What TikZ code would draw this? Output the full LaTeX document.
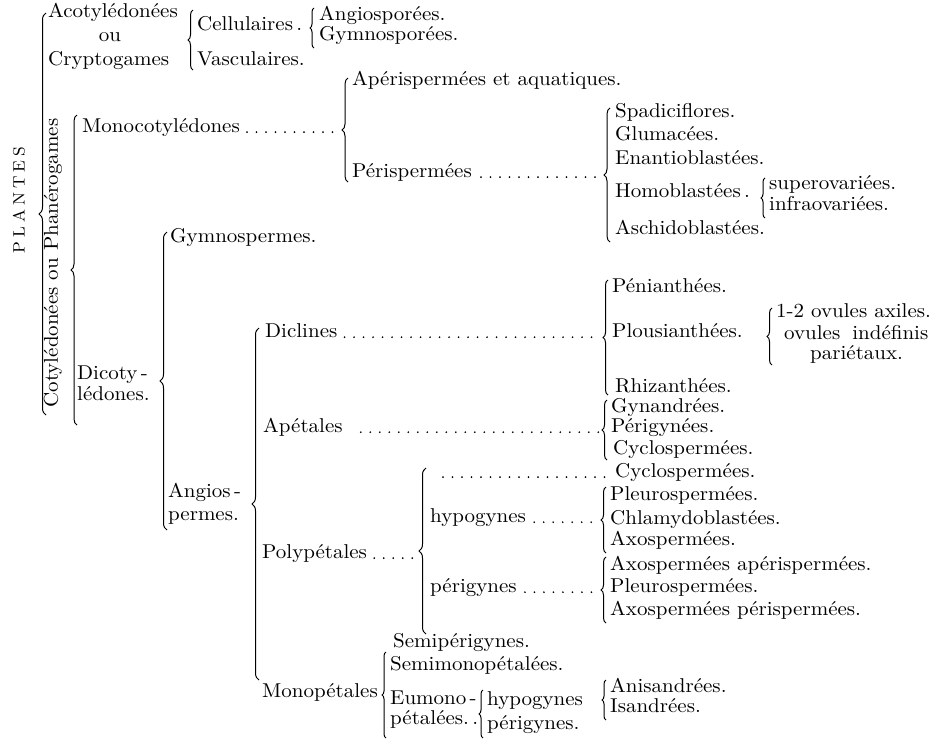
\documentclass[tikz,border=0pt]{standalone}
\usepackage{fontspec}
\setmainfont{lmroman10-regular}[Extension=.otf, FakeStretch=1.05]
\usetikzlibrary{decorations.pathreplacing}
\tikzset{
  lbl/.style={anchor=mid west, inner sep=0pt, font=\fontsize{20}{22}\selectfont},
  brc/.style={decorate, decoration={brace, amplitude=#1}, line width=1pt},
  brc/.default=5pt,
  lead/.style={line width=1.9pt, line cap=round, dash pattern=on 0pt off 9.5pt},
}
\begin{document}
\begin{tikzpicture}[x=1pt,y=-1pt]
\useasboundingbox (0,0) rectangle (944,745);
% tronc
\node[rotate=90, font=\fontsize{16.5}{17}\selectfont] (plantes) at (19,200) {P\kern4pt L\kern4pt A\kern4pt N\kern4pt T\kern4pt E\kern4pt S};
\draw[brc=7pt] (46,415) -- (46,13);
\node[lbl] (acot) at (48,15) {Acotylédonées};
\node[lbl, anchor=mid] (ou) at (110,39) {ou};
\node[lbl] (crypt) at (48,63) {Cryptogames};
\draw[brc] (193,70) -- (193,10);
\node[lbl] (cell) at (197,28) {Cellulaires\,.};
\node[lbl] (vasc) at (197,63) {Vasculaires.};
\draw[brc=4pt] (314,48) -- (314,8);
\node[lbl] (angsp) at (319,18) {Angiosporées.};
\node[lbl] (gymsp) at (319,38) {Gymnosporées.};
\node[rotate=90, font=\fontsize{20}{22}\selectfont] (cotyl) at (53,263) {Cotylédonées ou Phanérogames};
\draw[brc=6pt] (77,425) -- (77,115);
% monocotyledones
\node[lbl] (mono) at (82,130) {Monocotylédones};
\draw[brc=6pt] (348,182) -- (348,78);
\coordinate (tmono) at (340,130);
\node[lbl] (aper) at (352,83) {Apérispermées et aquatiques.};
\node[lbl] (peri) at (352,175) {Périspermées};
\draw[brc=6pt] (610,242) -- (610,108);
\coordinate (tperi) at (602,175);
\node[lbl] (spad) at (615,115) {Spadiciflores.};
\node[lbl] (glum) at (615,138) {Glumacées.};
\node[lbl] (enan) at (615,162) {Enantioblastées.};
\node[lbl] (homo) at (615,195) {Homoblastées\,.};
\draw[brc=4pt] (765,218) -- (765,178);
\node[lbl] (super) at (769,187) {superovariées.};
\node[lbl] (infra) at (769,208) {infraovariées.};
\node[lbl] (aschi) at (615,232) {Aschidoblastées.};
\draw[lead] ([xshift=7pt]mono.base east) -- (tmono |- mono.base east);
\draw[lead] ([xshift=9pt]peri.base east) -- (tperi |- peri.base east);
% dicotyledones
\node[lbl] (dicot) at (77,377) {Dicoty\,-};
\node[lbl] (dicot2) at (77,398) {lédones.};
\draw[brc=7pt] (167,530) -- (167,232);
\node[lbl] (gymno) at (170,240) {Gymnospermes.};
\node[lbl] (angio) at (168,495) {Angios\,-};
\node[lbl] (angio2) at (168,518) {permes.};
\draw[brc=7pt] (259,680) -- (259,328);
% diclines
\node[lbl] (dicl) at (265,335) {Diclines};
\draw[brc] (608,395) -- (608,280);
\coordinate (tdicl) at (601,337);
\node[lbl] (peni) at (612,290) {Pénianthées.};
\node[lbl] (plou) at (612,335) {Plousianthées.};
\draw[brc] (772,365) -- (772,308);
\node[lbl] (ov1) at (776,315) {1-2 ovules axiles.};
\node[lbl] (ov2) at (784,337) {ovules\hspace{12pt}indéfinis};
\node[lbl] (ov3) at (810,357) {pariétaux.};
\node[lbl] (rhiz) at (615,390) {Rhizanthées.};
\draw[lead] ([xshift=7pt]dicl.base east) -- (tdicl |- dicl.base east);
% apetales
\node[lbl] (apet) at (263,430) {Apétales};
\draw[brc] (607,460) -- (607,400);
\coordinate (tapet) at (600,430);
\node[lbl] (gyna) at (611,410) {Gynandrées.};
\node[lbl] (perig) at (611,430) {Périgynées.};
\node[lbl] (cycl) at (613,452) {Cyclospermées.};
\draw[lead] ([xshift=18pt]apet.base east) -- (tapet |- apet.base east);
% polypetales
\node[lbl] (poly) at (262,556) {Polypétales};
\draw[brc=7pt] (426,634) -- (426,468);
\coordinate (tpoly) at (418,551);
\coordinate (ptop) at (443,475);
\node[lbl] (cycl2) at (615,475) {Cyclospermées.};
\node[lbl] (hypo) at (430,520) {hypogynes};
\draw[brc] (606,553) -- (606,487);
\coordinate (thypo) at (599,520);
\node[lbl] (pleu) at (610,498) {Pleurospermées.};
\node[lbl] (chla) at (610,522) {Chlamydoblastées.};
\node[lbl] (axo) at (610,543) {Axospermées.};
\node[lbl] (perig2) at (430,590) {périgynes};
\draw[brc] (606,623) -- (606,557);
\coordinate (tperig) at (599,590);
\node[lbl] (axoa) at (610,568) {Axospermées apérispermées.};
\node[lbl] (pleu2) at (610,590) {Pleurospermées.};
\node[lbl] (axop) at (610,613) {Axospermées périspermées.};
\node[lbl] (semip) at (393,645) {Semipérigynes.};
\draw[lead] ([xshift=7pt]poly.base east) -- (tpoly |- poly.base east);
\draw[lead] (ptop |- cycl2.base west) -- ([xshift=-10pt]cycl2.base west);
\draw[lead] ([xshift=8pt]hypo.base east) -- (thypo |- hypo.base east);
\draw[lead] ([xshift=8pt]perig2.base east) -- (tperig |- perig2.base east);
% monopetales
\node[lbl] (monop) at (262,695) {Monopétales};
\draw[brc=4pt] (386,738) -- (386,652);
\node[lbl] (semim) at (390,668) {Semimonopétalées.};
\node[lbl] (eumo) at (390,702) {Eumono\,-};
\node[lbl] (eumo2) at (390,722) {pétalées.\,.};
\draw[brc=4pt] (483,738) -- (483,690);
\node[lbl] (hypo2) at (487,703) {hypogynes};
\node[lbl] (perig3) at (487,727) {périgynes.};
\draw[brc=4pt] (606,720) -- (606,680);
\node[lbl] (anis) at (610,690) {Anisandrées.};
\node[lbl] (isan) at (610,710) {Isandrées.};
\end{tikzpicture}
\end{document}
